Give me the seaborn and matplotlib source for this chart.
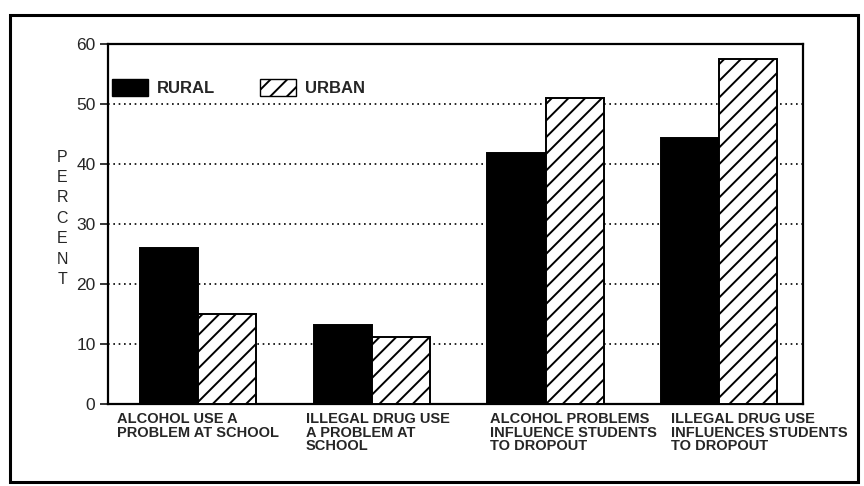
import matplotlib
matplotlib.use("Agg")
import matplotlib.pyplot as plt
import seaborn as sns
import pandas as pd
from matplotlib.patches import Patch, Rectangle
from matplotlib.transforms import ScaledTranslation

categories = [
    "ALCOHOL USE A\nPROBLEM AT SCHOOL",
    "ILLEGAL DRUG USE\nA PROBLEM AT\nSCHOOL",
    "ALCOHOL PROBLEMS\nINFLUENCE STUDENTS\nTO DROPOUT",
    "ILLEGAL DRUG USE\nINFLUENCES STUDENTS\nTO DROPOUT",
]
rural = [26, 13.2, 41.8, 44.3]
urban = [15, 11.2, 51, 57.5]
series = ["RURAL", "URBAN"]
yticks = [0, 10, 20, 30, 40, 50, 60]

sns.set_style("white")
plt.rcParams["font.family"] = ["Liberation Sans", "DejaVu Sans"]
plt.rcParams["hatch.linewidth"] = 1.4

df = pd.DataFrame({
    "category": categories * 2,
    "group": [series[0]] * 4 + [series[1]] * 4,
    "value": rural + urban,
})

fig = plt.figure(figsize=(8.64, 4.86), dpi=100)
ax = fig.add_axes([0.125, 0.169, 0.804, 0.741])

sns.barplot(data=df, x="category", y="value", hue="group",
            palette={"RURAL": "black", "URBAN": "white"},
            edgecolor="black", linewidth=1.4, width=0.67, gap=0,
            ax=ax, zorder=3, legend=False)

for p in ax.containers[1]:
    p.set_hatch("//")
    p.set_edgecolor("black")

ax.set_ylim(0, 60)
ax.set_xlim(-0.52, 3.48)
ax.set_yticks(yticks)
ax.set_yticklabels([str(t) for t in yticks], fontsize=12.5)
for y in yticks[1:-1]:
    ax.axhline(y, color="black", linestyle=(0, (1, 2.2)), linewidth=1.2, zorder=1)

ax.tick_params(axis="y", direction="out", length=6, width=1.3, left=True, pad=3)
ax.tick_params(axis="x", length=0, pad=6)
ax.set_xticks(range(4))
ax.set_xticklabels(categories, fontsize=10.5, fontweight="bold", linespacing=0.95,
                   multialignment="left", va="top")
offsets_px = [-81, -66, -56, -48]
for lab, dx in zip(ax.get_xticklabels(), offsets_px):
    lab.set_ha("left")
    lab.set_transform(lab.get_transform() + ScaledTranslation(dx / 100, 0, fig.dpi_scale_trans))
ax.set_xlabel("")
ax.set_ylabel("")
for s in ax.spines.values():
    s.set_visible(True)
    s.set_color("black")
    s.set_linewidth(1.6)

fig.text(0.072, 0.551, "P\nE\nR\nC\nE\nN\nT", ha="center", va="center",
         fontsize=11.5, linespacing=1.45)

handles = [Patch(facecolor="black", edgecolor="black", label=series[0]),
           Patch(facecolor="white", edgecolor="black", hatch="//", label=series[1])]
ax.legend(handles=handles, loc="center left", bbox_to_anchor=(0.006, 0.878),
          ncol=2, frameon=False, prop={"size": 12, "weight": "bold"},
          handlelength=2.15, handleheight=1.2,
          handletextpad=0.55, columnspacing=2.7, borderaxespad=0, borderpad=0)

fig.patches.append(Rectangle((10 / 864, 1 - 482 / 486), 848 / 864, 467 / 486,
                             transform=fig.transFigure, fill=False,
                             edgecolor="black", linewidth=2.2))

fig.savefig("out.png", dpi=100)
